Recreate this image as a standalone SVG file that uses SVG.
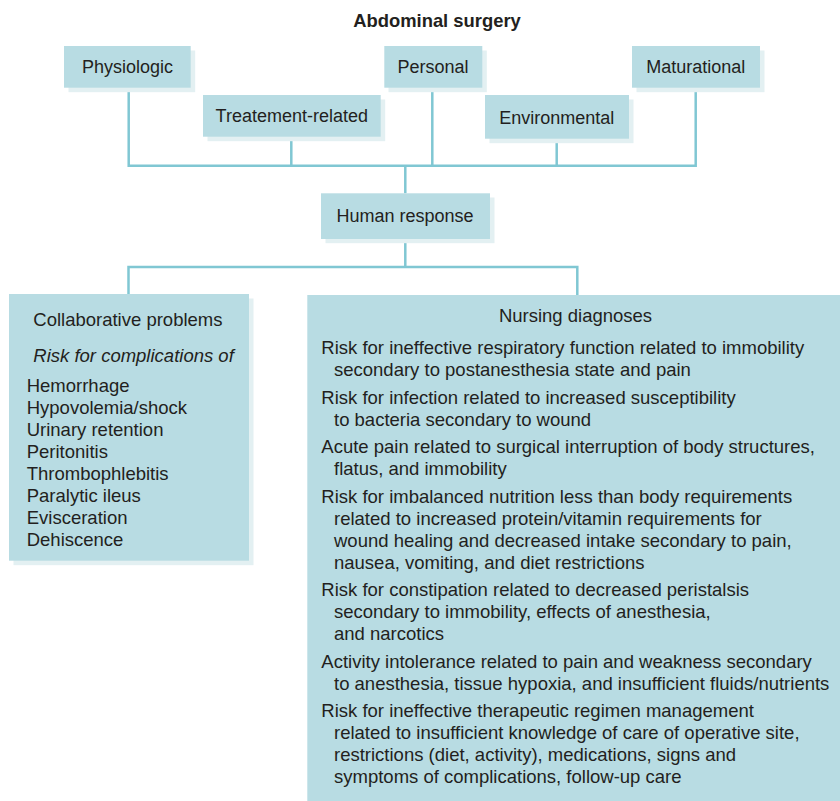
<svg xmlns="http://www.w3.org/2000/svg" width="840" height="801" viewBox="0 0 840 801">
<style>
.bx{fill:#b8dce3}
.sh{fill:#e3f0f2}
.t{font-family:"Liberation Sans",Arial,sans-serif;font-size:18px;fill:#231f20}
.b{font-size:18.5px}
.c{text-anchor:middle}
.ln{stroke:#80c7d3;stroke-width:2.5;fill:none}
</style>
<rect width="840" height="801" fill="#ffffff"/>
<text class="t c" x="437" y="27" style="font-weight:bold;font-size:18.4px">Abdominal surgery</text>

<g id="connectors">
<path class="ln" d="M128.7 87.7V165.7H695.7V87.7M291.3 136.7V165.7M432.3 87.7V165.7M556.7 138.7V165.7M405.3 165.7V193.3M405.3 239V267M128.5 294V267H577.3V295"/>
</g>

<g id="physiologic">
<rect class="sh" x="68.5" y="50.5" width="126.7" height="41.7"/>
<rect class="bx" x="64" y="46" width="126.7" height="41.7"/>
<text class="t c" x="127.5" y="73">Physiologic</text>
</g>
<g id="treatment">
<rect class="sh" x="207.5" y="99.5" width="177.7" height="41.7"/>
<rect class="bx" x="203" y="95" width="177.7" height="41.7"/>
<text class="t c" x="291.8" y="122">Treatement-related</text>
</g>
<g id="personal">
<rect class="sh" x="388.5" y="50.5" width="98.3" height="41.7"/>
<rect class="bx" x="384.3" y="46" width="98" height="41.7"/>
<text class="t c" x="433" y="73">Personal</text>
</g>
<g id="environmental">
<rect class="sh" x="489.5" y="99.5" width="144" height="43.7"/>
<rect class="bx" x="485" y="95" width="144" height="43.7"/>
<text class="t c" x="556.7" y="124">Environmental</text>
</g>
<g id="maturational">
<rect class="sh" x="636.5" y="50.5" width="128" height="41.7"/>
<rect class="bx" x="632" y="46" width="128" height="41.7"/>
<text class="t c" x="695.8" y="73">Maturational</text>
</g>
<g id="human-response">
<rect class="sh" x="325.5" y="197.5" width="169" height="45.7"/>
<rect class="bx" x="321" y="193.3" width="169" height="45.7"/>
<text class="t c" x="405" y="221.7">Human response</text>
</g>

<g id="collaborative-problems">
<rect class="sh" x="13.5" y="298.5" width="240" height="266.7"/>
<rect class="bx" x="9" y="294" width="240" height="266.7"/>
<text class="t b" x="33.3" y="325.7">Collaborative problems</text>
<text class="t b" x="33.3" y="361.7" font-style="italic">Risk for complications of</text>
<g class="t b">
<text x="26.7" y="391.7">Hemorrhage</text>
<text x="26.7" y="413.8">Hypovolemia/shock</text>
<text x="26.7" y="435.9">Urinary retention</text>
<text x="26.7" y="458">Peritonitis</text>
<text x="26.7" y="480.1">Thrombophlebitis</text>
<text x="26.7" y="502.2">Paralytic ileus</text>
<text x="26.7" y="524.3">Evisceration</text>
<text x="26.7" y="546.4">Dehiscence</text>
</g>
</g>

<g id="nursing-diagnoses">
<rect class="bx" x="307.3" y="295" width="533" height="506"/>
<text class="t b c" x="575.5" y="322">Nursing diagnoses</text>
<g class="t b">
<text x="321.3" y="354.3">Risk for ineffective respiratory function related to immobility</text>
<text x="334" y="376.4">secondary to postanesthesia state and pain</text>
<text x="321.3" y="403.7">Risk for infection related to increased susceptibility</text>
<text x="334" y="425.8">to bacteria secondary to wound</text>
<text x="321.3" y="453.1">Acute pain related to surgical interruption of body structures,</text>
<text x="334" y="475.2">flatus, and immobility</text>
<text x="321.3" y="502.5">Risk for imbalanced nutrition less than body requirements</text>
<text x="334" y="524.6">related to increased protein/vitamin requirements for</text>
<text x="334" y="546.7">wound healing and decreased intake secondary to pain,</text>
<text x="334" y="568.8">nausea, vomiting, and diet restrictions</text>
<text x="321.3" y="596.1">Risk for constipation related to decreased peristalsis</text>
<text x="334" y="618.2">secondary to immobility, effects of anesthesia,</text>
<text x="334" y="640.3">and narcotics</text>
<text x="321.3" y="667.6">Activity intolerance related to pain and weakness secondary</text>
<text x="334" y="689.7">to anesthesia, tissue hypoxia, and insufficient fluids/nutrients</text>
<text x="321.3" y="717">Risk for ineffective therapeutic regimen management</text>
<text x="334" y="739.1">related to insufficient knowledge of care of operative site,</text>
<text x="334" y="761.2">restrictions (diet, activity), medications, signs and</text>
<text x="334" y="783.3">symptoms of complications, follow-up care</text>
</g>
</g>
</svg>
